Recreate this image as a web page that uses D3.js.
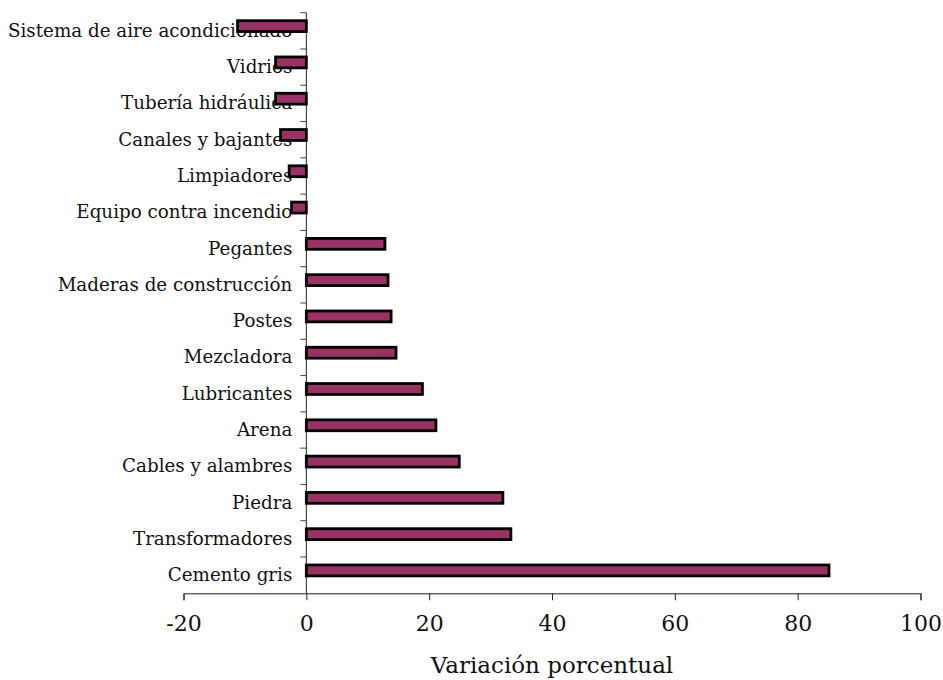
<!DOCTYPE html>
<html><head><meta charset="utf-8">
<script src="https://cdn.jsdelivr.net/npm/d3@7"></script>
<style>body{margin:0;background:#fff}svg{display:block}</style>
</head><body>
<svg id="c" width="943" height="680"></svg>
<script>
const categories = ["Sistema de aire acondicionado","Vidrios","Tubería hidráulica","Canales y bajantes","Limpiadores","Equipo contra incendio","Pegantes","Maderas de construcción","Postes","Mezcladora","Lubricantes","Arena","Cables y alambres","Piedra","Transformadores","Cemento gris"];
const values = [-11.2,-5.0,-5.0,-4.2,-2.8,-2.4,12.8,13.3,13.8,14.6,18.9,21.1,24.9,32.0,33.3,85.1];
const xTicks = [-20,0,20,40,60,80,100];
const xTitle = "Variación porcentual";

const svg = d3.select("#c");
const x = d3.scaleLinear().domain([-20,100]).range([183.5,920.5]);
const y = d3.scaleBand().domain(categories).range([12.7,593.3]).padding(0);
const bw = y.bandwidth();

// x axis
const xg = svg.append("g").attr("transform","translate(0,593.3)")
  .call(d3.axisBottom(x).tickValues(xTicks).tickSize(7).tickPadding(10).tickFormat(d=>String(d)));
xg.select(".domain").attr("stroke","#222");
xg.selectAll(".tick line").attr("stroke","#222");
xg.selectAll("text").attr("font-family","DejaVu Serif").attr("font-size",22).attr("fill","#111").attr("dy","0.95em");

// y axis at zero
const yAxisX = x(0);
svg.append("line").attr("x1",yAxisX).attr("x2",yAxisX).attr("y1",12.7).attr("y2",593.3).attr("stroke","#222");
const bounds = categories.map(c=>y(c));
svg.selectAll("line.yt").data(bounds).join("line").attr("class","yt")
  .attr("x1",yAxisX-6).attr("x2",yAxisX).attr("y1",d=>d).attr("y2",d=>d).attr("stroke","#444");

// labels
svg.selectAll("text.cat").data(categories).join("text").attr("class","cat")
  .attr("x",yAxisX-14).attr("y",d=>y(d)+bw*0.5+1)
  .attr("text-anchor","end").attr("dominant-baseline","middle")
  .attr("font-family","DejaVu Serif").attr("font-size",18.3).attr("fill","#111").text(d=>d);

// bars
svg.selectAll("rect.bar").data(categories).join("rect").attr("class","bar")
  .attr("x",(d,i)=>x(Math.min(0,values[i])))
  .attr("width",(d,i)=>Math.abs(x(values[i])-x(0)))
  .attr("y",d=>y(d)+bw*0.22).attr("height",bw*0.3)
  .attr("fill","#993366").attr("stroke","#000").attr("stroke-width",2.8);

svg.append("text").attr("x",552).attr("y",673).attr("text-anchor","middle")
  .attr("font-family","DejaVu Serif").attr("font-size",23).attr("fill","#111").text(xTitle);
</script>
</body></html>
